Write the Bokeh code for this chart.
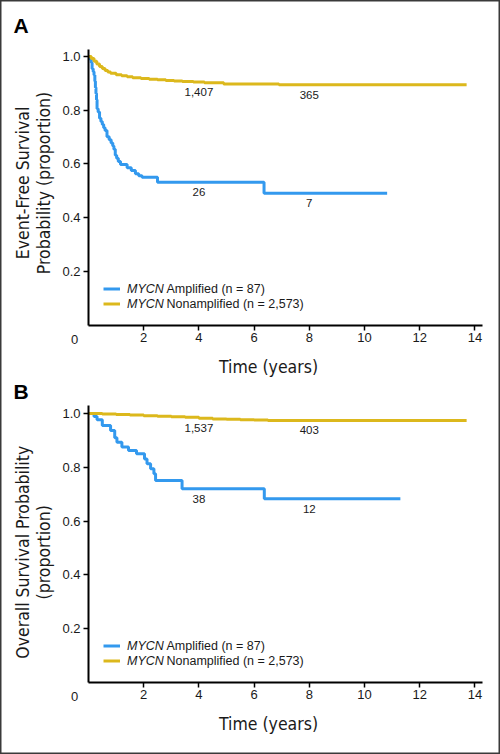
import numpy as np
from bokeh.plotting import figure
from bokeh.models import (FixedTicker, NumeralTickFormatter, Label, Legend,
                          LegendItem, Range1d, ColumnDataSource, LinearAxis)
from bokeh.core.properties import value
from bokeh.embed import file_html
from bokeh.resources import INLINE

# ---------------- data ----------------
# Panel A: event-free survival
efs_amp_t = [0, 0.05, 0.10, 0.13, 0.17, 0.20, 0.23, 0.25, 0.27, 0.29, 0.31, 0.35,
             0.40, 0.45, 0.50, 0.55, 0.60, 0.67, 0.75, 0.82, 0.88, 0.92, 0.97,
             1.02, 1.08, 1.16, 1.40, 1.55, 1.70, 1.82, 1.94, 2.50, 6.36, 10.82]
efs_amp_s = [1.0, 0.99, 0.977, 0.954, 0.943, 0.931, 0.908, 0.885, 0.862, 0.839,
             0.805, 0.793, 0.770, 0.758, 0.747, 0.735, 0.724, 0.701, 0.690, 0.678,
             0.667, 0.655, 0.632, 0.621, 0.609, 0.598, 0.586, 0.575, 0.563, 0.556,
             0.550, 0.532, 0.491, 0.491]
efs_non_t = [0, 0.1, 0.2, 0.3, 0.4, 0.5, 0.6, 0.7, 0.8, 1.0, 1.2, 1.4, 1.6, 1.9,
             2.2, 2.5, 2.8, 3.1, 3.4, 3.8, 4.2, 4.9, 6.9, 13.7]
efs_non_s = [1.0, 0.993, 0.982, 0.972, 0.963, 0.955, 0.948, 0.942, 0.938, 0.932,
             0.928, 0.925, 0.921, 0.918, 0.915, 0.913, 0.911, 0.909, 0.907, 0.905,
             0.902, 0.898, 0.895, 0.895]

# Panel B: overall survival
os_amp_t = [0, 0.20, 0.31, 0.50, 0.80, 0.95, 1.03, 1.21, 1.45, 1.74, 2.03, 2.12,
            2.25, 2.37, 2.43, 3.39, 6.37, 11.3]
os_amp_s = [1.0, 0.989, 0.977, 0.955, 0.937, 0.91, 0.893, 0.875, 0.862, 0.85,
            0.831, 0.813, 0.794, 0.776, 0.751, 0.720, 0.683, 0.683]
os_non_t = [0, 0.5, 1.0, 1.5, 2.0, 2.5, 3.0, 3.5, 4.0, 4.5, 5.0, 5.5, 6.0, 6.5, 13.7]
os_non_s = [1.0, 0.998, 0.996, 0.994, 0.992, 0.99, 0.988, 0.986, 0.982, 0.980,
            0.979, 0.977, 0.976, 0.974, 0.974]

# numbers at risk
risk_times = [4, 8]
efs_amp_risk = ["26", "7"]
efs_non_risk = ["1,407", "365"]
os_amp_risk = ["38", "12"]
os_non_risk = ["1,537", "403"]

x_ticks = [2, 4, 6, 8, 10, 12, 14]
y_ticks = [0.2, 0.4, 0.6, 0.8, 1.0]
origin_label = "0"
gene = "MYCN"
series_labels = ["Amplified (n = 87)", "Nonamplified (n = 2,573)"]
x_title = "Time (years)"
panel_letters = ["A", "B"]
efs_ylabel = ["Event-Free Survival", "Probability (proportion)"]
os_ylabel = ["Overall Survival Probability", "(proportion)"]

# ---------------- style / layout ----------------
BLUE = "#3399ee"
GOLD = "#dcb81c"
TXT = "#1a1a1a"
SANS = "Liberation Sans"
NARROW = "'DejaVu Sans Condensed', sans-serif"
TITLE_SIZE = "17.5px"
W, H = 500, 754
ORIGIN_X = 88.0          # screen x of t = 0
AXIS_END_X = 482.0       # right end of the x axes
PX_YEAR = 27.6
PANELS = {  # screen y of S=0, px per unit, screen y of y-axis top
    "default": (324.5, 268.5, 48.5),
    "b": (681.75, 268.75, 405.0),
}


def yrange_for(name):
    y0, k, _ = PANELS[name]
    return Range1d((y0 - H) / k, y0 / k)


p = figure(width=W, height=H, output_backend="svg", toolbar_location=None,
           x_range=Range1d(-ORIGIN_X / PX_YEAR, (W - ORIGIN_X) / PX_YEAR),
           y_range=yrange_for("default"),
           x_axis_type=None, y_axis_type=None,
           min_border=0, min_border_left=0, min_border_right=0,
           min_border_top=0, min_border_bottom=0)
p.extra_y_ranges = {"b": yrange_for("b")}
p.grid.visible = False
p.outline_line_color = "#3a3a3a"
p.outline_line_width = 2
p.background_fill_color = "white"
p.border_fill_color = "white"


def style_axis(ax):
    ax.axis_line_width = 2
    ax.axis_line_color = "black"
    ax.major_tick_line_width = 1.5
    ax.major_tick_out = 5
    ax.major_tick_in = 0
    ax.minor_tick_out = 0
    ax.minor_tick_in = 0
    ax.major_label_standoff = 3
    ax.major_label_text_font = SANS
    ax.major_label_text_font_size = "13px"
    ax.major_label_text_color = TXT


def make_panel(rname, letter, ylabel, amp_t, amp_s, non_t, non_s, amp_risk,
               non_risk, ylab_center, letter_up):
    y0, k, ytop = PANELS[rname]
    xa = LinearAxis(y_range_name=rname, fixed_location=0,
                    bounds=(0, (AXIS_END_X - ORIGIN_X) / PX_YEAR),
                    ticker=FixedTicker(ticks=x_ticks),
                    formatter=NumeralTickFormatter(format="0"))
    ya = LinearAxis(y_range_name=rname, fixed_location=0,
                    bounds=(0, (y0 - ytop) / k),
                    ticker=FixedTicker(ticks=y_ticks),
                    formatter=NumeralTickFormatter(format="0.0"))
    style_axis(xa)
    style_axis(ya)
    p.add_layout(xa, "below")
    p.add_layout(ya, "left")

    r_amp = p.step(amp_t, amp_s, mode="after", line_color=BLUE, line_width=3,
                   y_range_name=rname)
    r_non = p.step(non_t, non_s, mode="after", line_color=GOLD, line_width=3,
                   y_range_name=rname)

    # numbers at risk under the curves
    for ts, ss, labels in ((amp_t, amp_s, amp_risk), (non_t, non_s, non_risk)):
        idx = np.searchsorted(np.asarray(ts), risk_times, side="right") - 1
        src = ColumnDataSource(dict(x=risk_times, y=[ss[i] for i in idx], t=labels))
        p.text(x="x", y="y", text="t", source=src, y_offset=10, y_range_name=rname,
               text_align="center", text_baseline="middle",
               text_font=value(SANS), text_font_size="11.5px", text_color=TXT)

    def lab(text, xo, yo, **kw):
        p.add_layout(Label(x=0, y=0, x_offset=xo, y_offset=yo, text=text,
                           y_range_name=rname, **kw))

    # legend: italic gene name from the Legend, the rest as labels
    leg = Legend(items=[LegendItem(label=gene, renderers=[r_amp]),
                        LegendItem(label=gene, renderers=[r_non])],
                 location=(ORIGIN_X + 15, H - y0 + 13.5), padding=0, margin=0,
                 spacing=0, glyph_width=17, glyph_height=15, label_height=15,
                 label_standoff=7, label_text_font=SANS,
                 label_text_font_style="italic", label_text_font_size="12.5px",
                 label_text_color=TXT, border_line_color=None,
                 background_fill_alpha=0)
    p.add_layout(leg)
    for text, dy in zip(series_labels, (36, 21)):
        lab(text, 78, dy, text_font=SANS, text_font_size="12.5px",
            text_color=TXT, text_baseline="middle")

    # origin tick label and x title
    lab(origin_label, -14, -14, text_font=SANS, text_font_size="13px",
        text_color=TXT, text_align="center", text_baseline="middle")
    lab(x_title, 180, -42, text_font=NARROW, text_font_size=TITLE_SIZE,
        text_color=TXT, text_align="center", text_baseline="middle")

    # y title, two centred lines
    for line, xo in zip(ylabel, (-66, -45)):
        lab(line, xo, ylab_center, angle=np.pi / 2, text_font=NARROW,
            text_font_size=TITLE_SIZE, text_color=TXT, text_align="center",
            text_baseline="middle")

    # panel letter
    lab(letter, -75, letter_up, text_font=SANS, text_font_style="bold",
        text_font_size="21px", text_color="black", text_baseline="middle")


make_panel("default", panel_letters[0], efs_ylabel, efs_amp_t, efs_amp_s,
           efs_non_t, efs_non_s, efs_amp_risk, efs_non_risk,
           ylab_center=142, letter_up=300)
make_panel("b", panel_letters[1], os_ylabel, os_amp_t, os_amp_s,
           os_non_t, os_non_s, os_amp_risk, os_non_risk,
           ylab_center=130, letter_up=291)

open("out.html", "w").write(file_html(p, INLINE))
